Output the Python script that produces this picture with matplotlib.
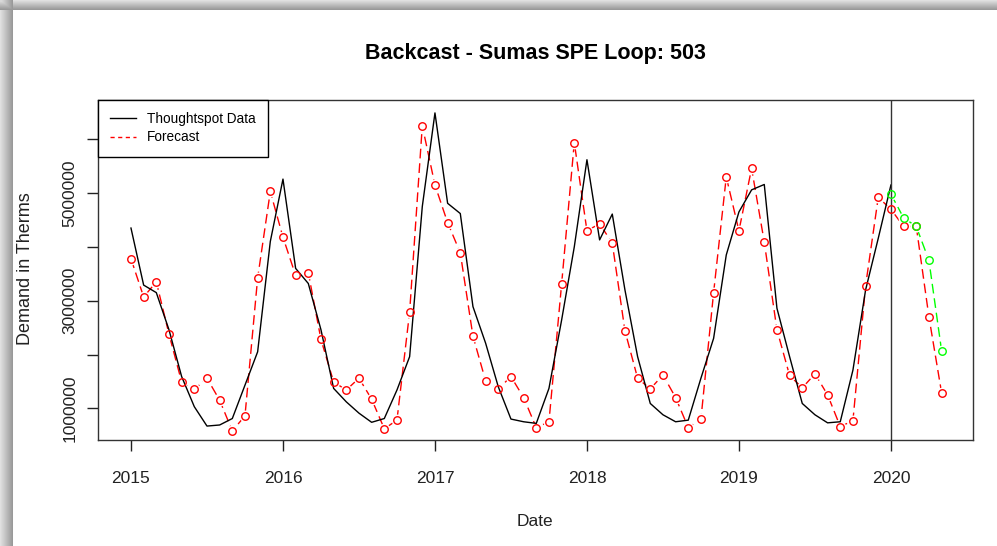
import matplotlib
matplotlib.use('Agg')
import matplotlib.pyplot as plt
import numpy as np
from matplotlib.lines import Line2D

plt.rcParams['font.family'] = ['Liberation Sans', 'DejaVu Sans']

# monthly data, Jan 2015 .. Jan 2020 (Thoughtspot actuals)
actual = [4.35e6, 3.29e6, 3.15e6, 2.46e6, 1.59e6, 1.03e6, 0.67e6, 0.69e6, 0.81e6, 1.43e6, 2.05e6, 4.10e6,
          5.26e6, 3.60e6, 3.32e6, 2.46e6, 1.37e6, 1.12e6, 0.91e6, 0.74e6, 0.81e6, 1.34e6, 1.96e6, 4.75e6,
          6.49e6, 4.81e6, 4.62e6, 2.89e6, 2.21e6, 1.40e6, 0.80e6, 0.75e6, 0.72e6, 1.37e6, 2.64e6, 4.00e6,
          5.62e6, 4.13e6, 4.61e6, 3.20e6, 1.96e6, 1.09e6, 0.88e6, 0.75e6, 0.78e6, 1.56e6, 2.30e6, 3.85e6,
          4.65e6, 5.06e6, 5.16e6, 2.86e6, 1.96e6, 1.09e6, 0.88e6, 0.73e6, 0.75e6, 1.71e6, 3.20e6, 4.16e6,
          5.15e6]

# backcast / forecast, Jan 2015 .. May 2020
forecast = [3.78e6, 3.07e6, 3.35e6, 2.38e6, 1.49e6, 1.35e6, 1.56e6, 1.15e6, 0.58e6, 0.86e6, 3.42e6, 5.03e6,
            4.18e6, 3.47e6, 3.52e6, 2.28e6, 1.49e6, 1.34e6, 1.56e6, 1.17e6, 0.62e6, 0.78e6, 2.79e6, 6.25e6,
            5.15e6, 4.45e6, 3.89e6, 2.34e6, 1.51e6, 1.36e6, 1.59e6, 1.20e6, 0.64e6, 0.75e6, 3.31e6, 5.94e6,
            4.30e6, 4.43e6, 4.07e6, 2.44e6, 1.56e6, 1.36e6, 1.62e6, 1.20e6, 0.64e6, 0.80e6, 3.15e6, 5.30e6,
            4.30e6, 5.46e6, 4.09e6, 2.46e6, 1.61e6, 1.38e6, 1.64e6, 1.25e6, 0.66e6, 0.77e6, 3.28e6, 4.92e6,
            4.70e6, 4.38e6, 4.38e6, 2.70e6, 1.29e6]

# second forecast, Jan 2020 .. May 2020
forecast2 = [4.98e6, 4.54e6, 4.38e6, 3.75e6, 2.07e6]

start_year = 2015
t_act = start_year + np.arange(len(actual)) / 12
t_fc = start_year + np.arange(len(forecast)) / 12
t_fc2 = 2020 + np.arange(len(forecast2)) / 12

xticks = [2015, 2016, 2017, 2018, 2019, 2020]
yticks = [1e6, 2e6, 3e6, 4e6, 5e6, 6e6]
ytick_labels = ['1000000', '', '3000000', '', '5000000', '']

W, H = 997, 546
fig = plt.figure(figsize=(W / 100, H / 100), dpi=100)

# window drop shadow along top and left edge
bg = fig.add_axes([0, 0, 1, 1], zorder=-10)
img = np.ones((H, W))
xs = np.arange(13)
img[:, :13] = 0.88 - 0.28 * xs / 12
ys = np.arange(10)
top = 0.88 - 0.28 * ys / 9
img[:10, :] = np.minimum(img[:10, :], top[:, None])
img[:10, :13] = np.minimum(img[:10, :13], 0.85)
bg.imshow(img, cmap='gray', vmin=0, vmax=1, aspect='auto', interpolation='bilinear')
bg.axis('off')

ax = fig.add_axes([98 / W, 1 - 440 / H, 875 / W, 340 / H])

dash = (0, (7, 3.5))
ax.plot(t_fc, forecast, color='red', lw=1, linestyle=dash, zorder=2)
ax.plot(t_fc2, forecast2, color='#00ff00', lw=1, linestyle=dash, zorder=2)
# type="b" style gaps round the points
ax.plot(t_fc, forecast, 'o', ms=8.5, mfc='white', mec='none', zorder=3)
ax.plot(t_fc2, forecast2, 'o', ms=8.5, mfc='white', mec='none', zorder=3)
ax.plot(t_act, actual, color='black', lw=1, zorder=4)
ax.plot(t_fc, forecast, 'o', ms=5.4, mfc='none', mec='red', mew=1, zorder=5)
ax.plot(t_fc2, forecast2, 'o', ms=5.4, mfc='none', mec='#00ff00', mew=1, zorder=5)
ax.axvline(2020, color='#333333', lw=1, zorder=4)

ax.set_xlim(2014.783, 2020.54)
ax.set_ylim(0.411e6, 6.73e6)
ax.set_xticks(xticks)
ax.set_xticklabels([str(y) for y in xticks], fontsize=12.5)
ax.set_yticks(yticks)
ax.set_yticklabels(ytick_labels, fontsize=12.5, rotation=90, va='center')
ax.tick_params(axis='x', direction='out', length=8, width=1, pad=14, colors='#222222')
ax.tick_params(axis='y', direction='out', length=8, width=1, pad=7, colors='#222222')
for sp in ax.spines.values():
    sp.set_color('#333333')
    sp.set_linewidth(1)

handles = [Line2D([], [], color='black', lw=1),
           Line2D([], [], color='red', lw=1, linestyle=(0, (3, 2.5)))]
leg = ax.legend(handles, ['Thoughtspot Data', 'Forecast'], loc='upper left',
                bbox_to_anchor=(0, 1), borderaxespad=0, fancybox=False,
                framealpha=1, edgecolor='black', handlelength=1.9,
                handletextpad=0.8, labelspacing=0.3, borderpad=0.9,
                prop={'size': 9.8})
leg.get_frame().set_linewidth(1)

fig.text(535 / W, 1 - 53 / H, 'Backcast - Sumas SPE Loop: 503', ha='center', va='center',
         fontsize=15.5, fontweight='bold')
fig.text(535 / W, 1 - 521 / H, 'Date', ha='center', va='center', fontsize=12.5, color='#222222')
fig.text(25 / W, 1 - 269 / H, 'Demand in Therms', ha='center', va='center', rotation=90,
         fontsize=13, color='#222222')

fig.savefig('out.png', dpi=100)
